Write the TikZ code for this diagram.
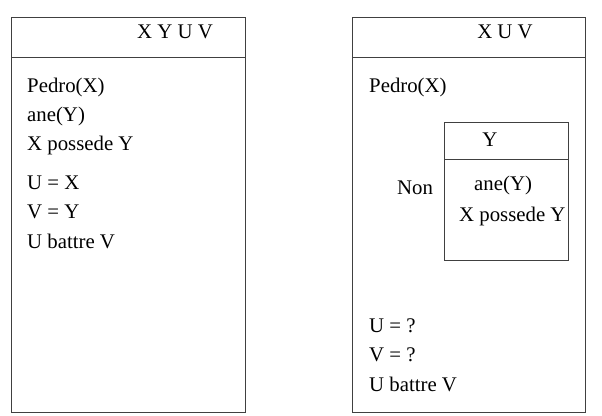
\documentclass[tikz,border=0pt]{standalone}
\usepackage{fontspec}
\setmainfont{Liberation Serif}
\usepackage{tikz}
\tikzset{drs/.style={draw=black!75,line width=1pt},
    cond/.style={anchor=west,inner sep=0pt,font=\fontsize{20.8}{24}\selectfont},
    univ/.style={inner sep=0pt,font=\fontsize{20.8}{24}\selectfont}}

\begin{document}
\begin{tikzpicture}[x=1pt,y=-1pt]
                \useasboundingbox (0,0) rectangle (602,415);
                
                % Left box
                \draw[drs] (11,17) rectangle (245,412);
                \draw[drs] (11,57) -- (245,57);
                \node[univ] (lu) at (175,32) {X Y U V};
                \node[cond] (l1) at (27,87) {Pedro(X)};
                \node[cond] (l2) at (27,116) {ane(Y)};
                \node[cond] (l3) at (27,145) {X possede Y};
                \node[cond] (l4) at (27,183) {U = X};
                \node[cond] (l5) at (27,212) {V = Y};
                \node[cond] (l6) at (27,241) {U battre V};
                
                % Right box
                \draw[drs] (352,17) rectangle (585,412);
                \draw[drs] (352,57) -- (585,57);
                \node[univ] (ru) at (505,32) {X U V};
                \node[cond] (r1) at (369,87) {Pedro(X)};
                
                % Negated box
                \draw[drs] (444,122) rectangle (568,260);
                \draw[drs] (444,159) -- (568,159);
                \node[univ] (nu) at (490,140) {Y};
                \node[univ] (non) at (415,188) {Non};
                \node[cond] (n1) at (474,185) {ane(Y)};
                \node[cond] (n2) at (459,216) {X possede Y};
                
                \node[cond] (r2) at (369,326) {U = ?};
                \node[cond] (r3) at (369,355) {V = ?};
                \node[cond] (r4) at (369,384) {U battre V};
            \end{tikzpicture}
\end{document}
